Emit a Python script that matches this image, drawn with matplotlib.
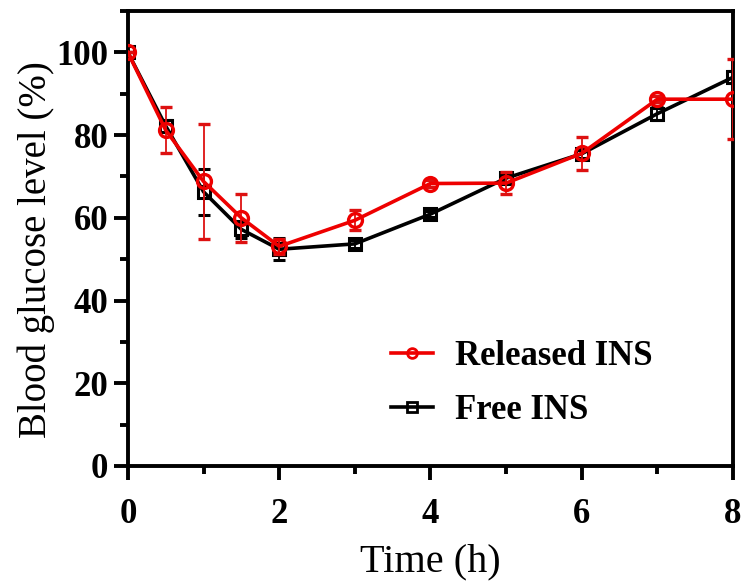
import matplotlib
matplotlib.use("Agg")
import matplotlib.pyplot as plt
from matplotlib.ticker import MultipleLocator
from matplotlib.lines import Line2D

time_h = [0, 0.5, 1, 1.5, 2, 3, 4, 5, 6, 7, 8]
released = [100, 81.2, 68.8, 60.0, 53.1, 59.4, 68.3, 68.4, 75.6, 88.7, 88.7]
released_err = [0, 5.5, 14.0, 5.8, 1.8, 2.4, 0.8, 2.7, 4.0, 0.8, 9.7]
free = [100, 82.2, 66.3, 57.2, 52.4, 53.7, 60.9, 69.6, 75.5, 85.2, 94.0]
free_err = [0, 1.5, 5.5, 2.0, 2.7, 1.0, 0.8, 1.0, 1.0, 1.5, 1.5]

RED = '#ee0000'

plt.rcParams['font.family'] = ['Liberation Serif', 'DejaVu Serif']

fig = plt.figure(figsize=(7.48, 5.86), dpi=100)
ax = fig.add_axes([0.171, 0.205, 0.809, 0.776])

ax.errorbar(time_h, free, yerr=free_err, color='black', lw=2.6,
            marker='s', ms=9, mfc='none', mec='black', mew=2.2,
            ecolor='black', elinewidth=1.3, capsize=4.5, capthick=1.3,
            zorder=2)
ax.errorbar(time_h, released, yerr=released_err, color=RED, lw=2.6,
            marker='o', ms=10, mfc='none', mec=RED, mew=2.4,
            ecolor='#dd1111', elinewidth=1.3, capsize=4.5, capthick=1.3,
            zorder=3)

ax.set_xlim(0, 8)
ax.set_ylim(0, 110)
ax.xaxis.set_major_locator(MultipleLocator(2))
ax.xaxis.set_minor_locator(MultipleLocator(1))
ax.set_yticks([0, 20, 40, 60, 80, 100])
ax.yaxis.set_minor_locator(MultipleLocator(10))

for s in ax.spines.values():
    s.set_linewidth(2.8)

ax.tick_params(which='major', direction='out', length=10, width=2.8,
               labelsize=25, pad=4)
ax.tick_params(which='minor', direction='out', length=6, width=2.8)
ax.tick_params(axis='x', which='major', pad=13)
for lab in ax.get_xticklabels() + ax.get_yticklabels():
    lab.set_fontweight('bold')

ax.set_xlabel('Time (h)', fontsize=29, labelpad=9)
ax.set_ylabel('Blood glucose level (%)', fontsize=28)
ax.yaxis.set_label_coords(-0.12, 0.475)

h_rel = Line2D([], [], color=RED, lw=2.6, marker='o', ms=7, mfc='none',
               mec=RED, mew=2.0)
h_free = Line2D([], [], color='black', lw=2.6, marker='s', ms=6.5,
                mfc='none', mec='black', mew=2.0)
ax.legend([h_rel, h_free], ['Released INS', 'Free INS'], loc='upper left',
          bbox_to_anchor=(0.435, 0.277), frameon=False, borderpad=0,
          borderaxespad=0, prop={'weight': 'bold', 'size': 25},
          handlelength=1.2, handletextpad=0.65, labelspacing=0.6)

fig.savefig('out.png', dpi=100)
